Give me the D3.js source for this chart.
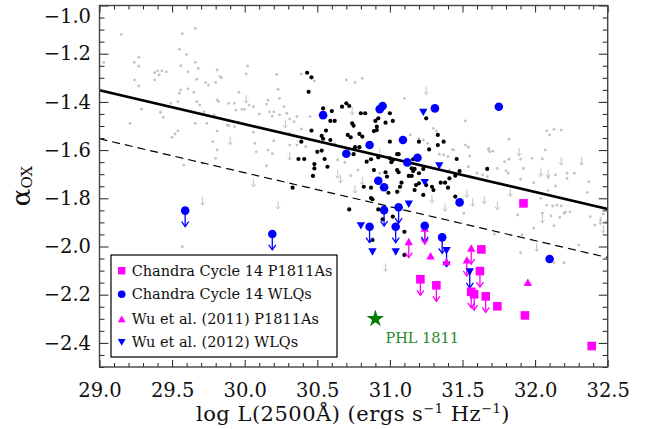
<!DOCTYPE html>
<html><head><meta charset="utf-8">
<script src="https://cdn.jsdelivr.net/npm/d3@7"></script>
<style>body{margin:0;background:#fff}</style>
</head><body>
<svg id="chart" width="650" height="429"></svg>
<script>
// ---------------- data ----------------
const xMajorTicks = [29.0, 29.5, 30.0, 30.5, 31.0, 31.5, 32.0, 32.5];
const yMajorTicks = [-1.0, -1.2, -1.4, -1.6, -1.8, -2.0, -2.2, -2.4];
const xDomain = [29.0, 32.5];
const yDomain = [-2.5, -1.0];

// best-fit relation (solid) and offset relation (dashed)
const fitSolid = [[29.0, -1.352], [32.5, -1.844]];
const fitDashed = [[29.0, -1.553], [32.5, -2.046]];

// comparison sample: detections (grey dots)
const sampleDetections = [
[29.15,-1.12],[29.66,-1.095],[29.57,-1.117],[29.55,-1.182],[29.60,-1.203],[29.03,-1.236],[29.24,-1.236],[29.27,-1.215],[29.27,-1.252],[29.56,-1.25],[29.66,-1.236],[29.68,-1.261],[29.38,-1.279],[29.40,-1.271],[29.43,-1.271],[29.46,-1.275],[29.41,-1.288],[29.38,-1.309],[29.24,-1.309],[29.27,-1.334],[29.61,-1.275],[29.81,-1.268],[29.83,-1.295],[29.84,-1.30],[29.67,-1.306],[29.73,-1.32],[29.75,-1.33],[29.80,-1.319],[30.02,-1.251],[30.01,-1.284],[30.22,-1.286],[30.23,-1.348],[30.24,-1.385],[29.56,-1.351],[29.55,-1.364],[29.54,-1.399],[29.61,-1.346],[29.65,-1.36],[29.67,-1.399],[29.69,-1.413],[29.81,-1.392],[29.82,-1.399],[29.96,-1.36],[29.49,-1.406],[29.29,-1.43],[29.42,-1.443],[29.44,-1.464],[29.72,-1.441],[29.79,-1.454],[29.89,-1.406],[29.93,-1.406],[29.94,-1.434],[29.98,-1.431],[30.00,-1.431],[30.03,-1.413],[30.06,-1.42],[30.10,-1.45],[30.15,-1.409],[30.17,-1.441],[30.20,-1.441],[30.19,-1.459],[30.24,-1.454],[30.31,-1.471],[30.34,-1.482],[30.36,-1.461],[29.21,-1.489],[29.66,-1.489],[29.74,-1.489],[29.88,-1.496],[29.89,-1.499],[29.93,-1.503],[29.96,-1.485],[29.81,-1.521],[30.06,-1.526],[29.54,-1.52],[29.52,-1.533],[29.50,-1.547],[29.78,-1.565],[30.07,-1.572],[30.20,-1.562],[30.36,-1.579],[29.81,-1.60],[30.08,-1.607],[30.16,-1.60],[29.80,-1.634],[29.58,-1.662],[29.71,-1.655],[30.15,-1.665],[29.57,-2.001],
[32.08,-1.52],[32.10,-1.537],[32.13,-1.514],[32.18,-1.517],[31.82,-1.555],[31.68,-1.593],[31.71,-1.604],[32.07,-1.60],[31.82,-1.638],[31.79,-1.648],[31.90,-1.638],[31.98,-1.634],[32.05,-1.637],[31.74,-1.676],[31.80,-1.686],[31.815,-1.696],[31.92,-1.676],[32.14,-1.703],[32.22,-1.696],[32.22,-1.717],[32.27,-1.696],[31.90,-1.721],[31.99,-1.735],[32.09,-1.713],[32.37,-1.731],[31.67,-1.71],[32.36,-1.775],[32.14,-1.749],[32.09,-1.768],[32.10,-1.786],[32.04,-1.80],[32.12,-1.832],[32.15,-1.828],[32.18,-1.832],[32.21,-1.856],[32.20,-1.862],[32.24,-1.856],[32.11,-1.873],[32.17,-1.879],[31.88,-1.869],[32.38,-1.876],[32.41,-1.911],[32.13,-1.914],[31.99,-1.924],[31.72,-1.948],[31.91,-1.952],[32.30,-1.994],[31.90,-2.026],[32.13,-2.067],[32.20,-2.067],[32.05,-1.862],[32.08,-1.828],[32.45,-1.89],[32.47,-1.865],[32.49,-1.898],
[30.39,-1.512],[30.27,-1.42],[30.29,-1.447],[30.31,-1.579],[30.45,-1.461],[30.42,-1.586],[30.62,-1.572],[30.67,-1.586],[30.70,-1.309],[30.81,-1.302],[30.76,-1.319],[30.78,-1.60],[30.64,-1.641],[30.69,-1.651],[30.78,-1.683],[30.73,-1.706],[30.93,-1.696],[31.10,-1.565],[31.14,-1.537],[31.23,-1.558],[31.26,-1.572],[31.30,-1.51],[31.32,-1.521],[31.52,-1.479],[31.68,-1.60],[31.44,-1.60],[31.40,-1.627],[31.54,-1.669],[31.60,-1.696],[31.64,-1.703],[31.41,-1.683],[31.10,-1.385],[31.34,-1.617],[31.37,-1.62],[31.43,-1.597],[31.52,-1.579],[31.54,-1.588],[31.69,-1.607],[31.55,-1.624],[31.20,-1.551],[31.51,-1.862],[30.19,-1.615],[30.31,-1.532],[30.16,-1.393],[30.39,-1.284],[30.48,-1.313]
];

// comparison sample: upper limits (grey arrows)
const sampleLimits = [
[30.01,-1.371],[30.28,-1.475],[29.90,-1.544],[30.31,-1.608],[30.06,-1.72],[29.71,-1.795],[30.23,-1.811],[31.89,-1.591],[32.18,-1.629],[32.32,-1.629],[32.04,-1.676],[32.09,-1.68],[31.65,-1.79],[31.74,-1.814],[32.05,-1.869],[32.45,-1.876],[32.47,-1.911],[32.01,-1.987],[31.53,-1.763],[31.57,-1.80],[31.38,-1.821],[31.29,-1.786],[30.97,-2.07],[30.64,-1.683],[30.66,-1.703],[30.74,-1.42],[30.81,-1.71],[30.76,-1.745],[30.93,-1.593],[31.06,-1.745],[31.25,-1.337],[31.83,-1.759]
];

// black dots
const blackDots = [
[30.43,-1.279],[30.46,-1.298],[30.44,-1.358],[30.54,-1.427],[30.60,-1.438],[30.59,-1.479],[30.62,-1.479],[30.67,-1.420],[30.70,-1.406],[30.72,-1.417],[30.80,-1.447],[30.83,-1.447],[30.74,-1.489],[30.75,-1.499],[30.90,-1.479],[30.92,-1.468],[30.97,-1.486],[30.91,-1.503],[30.91,-1.517],[30.89,-1.521],[31.00,-1.447],[31.02,-1.479],[30.46,-1.519],[30.56,-1.519],[30.53,-1.541],[30.54,-1.553],[30.39,-1.565],[30.59,-1.558],[30.71,-1.537],[30.73,-1.547],[30.79,-1.533],[30.81,-1.544],[30.76,-1.588],[30.79,-1.588],[31.00,-1.565],[30.50,-1.607],[30.53,-1.602],[30.37,-1.637],[30.41,-1.637],[30.55,-1.637],[30.48,-1.658],[30.48,-1.676],[30.57,-1.669],[30.75,-1.617],[30.84,-1.648],[30.87,-1.638],[30.47,-1.707],[30.89,-1.683],[30.98,-1.710],[31.20,-1.565],[31.33,-1.537],[31.37,-1.565],[31.33,-1.579],[31.27,-1.597],[31.05,-1.617],[31.06,-1.617],[31.00,-1.634],[31.02,-1.641],[31.16,-1.638],[31.46,-1.637],[31.15,-1.676],[31.16,-1.687],[31.17,-1.678],[31.05,-1.683],[31.06,-1.692],[31.23,-1.678],[31.20,-1.696],[31.13,-1.707],[31.15,-1.707],[31.08,-1.735],[31.18,-1.745],[31.25,-1.745],[31.29,-1.752],[31.30,-1.766],[31.35,-1.735],[31.38,-1.735],[31.40,-1.756],[31.41,-1.717],[31.48,-1.687],[31.45,-1.706],[31.67,-1.678],[31.23,-1.786],[31.45,-1.793],[31.07,-1.752],[31.05,-1.773],[30.99,-1.777],[30.82,-1.752],[30.87,-1.756],[30.87,-1.799],[30.33,-1.756],[31.25,-1.468],[31.20,-1.738],[31.17,-1.766],[30.88,-1.804],[30.72,-1.846],[30.95,-1.887],[31.10,-1.939],[31.10,-2.035],[30.88,-1.973],[31.02,-1.876],[30.92,-1.846],[30.92,-1.630],[30.97,-1.692],[31.01,-1.650]
];

// [logL, alpha_ox, upperLimit]
const c14P1811 = [
[31.92,-1.821,0],[31.63,-2.012,0],[31.62,-2.102,1],[31.21,-2.136,1],[31.32,-2.161,1],[31.56,-2.188,1],[31.58,-2.198,1],[31.66,-2.207,1],[31.74,-2.248,0],[31.93,-2.286,0],[32.39,-2.413,0]
];
const c14WLQ = [
[29.59,-1.851,1],[30.19,-1.948,1],[30.54,-1.455,0],[30.70,-1.615,0],[30.86,-1.579,0],[30.93,-1.430,0],[30.95,-1.417,0],[30.92,-1.727,0],[30.96,-1.754,0],[30.96,-1.849,1],[31.06,-1.837,1],[31.04,-1.918,1],[31.09,-1.558,0],[31.12,-1.651,0],[31.19,-1.632,0],[31.24,-1.914,1],[31.31,-1.427,0],[31.36,-1.962,1],[31.48,-1.817,0],[31.75,-1.420,0],[32.10,-2.052,0],[30.86,-1.918,1]
];
const wu11P1811 = [
[31.13,-1.980,1],[31.28,-2.039,0],[31.24,-1.924,1],[31.39,-2.063,0],[31.56,-2.007,1],[31.53,-2.056,1],[31.95,-2.149,0]
];
const wu12WLQ = [
[30.80,-1.914,0],[30.88,-2.022,0],[31.04,-2.022,0],[31.13,-1.824,0],[31.23,-1.443,0],[31.34,-1.665,0],[31.24,-1.734,0],[31.39,-2.017,1],[31.55,-2.105,1]
];
const phl1811 = [30.90, -2.30];

const legendLabels = ["Chandra Cycle 14 P1811As", "Chandra Cycle 14 WLQs", "Wu et al. (2011) P1811As", "Wu et al. (2012) WLQs"];

// ---------------- drawing ----------------
const svg = d3.select("#chart");
const FONT = "DejaVu Serif";
const BLUE = "#0000ff", MAG = "#ff00ff", GREY = "#c2c2c2";
const x = d3.scaleLinear().domain(xDomain).range([99.5, 607.7]);
const y = d3.scaleLinear().domain(yDomain).range([367, 5.5]);

const plot = svg.append("g");

// grey sample
plot.selectAll("circle.gd").data(sampleDetections).join("circle")
  .attr("cx", d => x(d[0])).attr("cy", d => y(d[1])).attr("r", 1.4).attr("fill", GREY);

function arrow(g, px, py, len, hw, hh, color, w) {
  g.append("line").attr("x1", px).attr("y1", py).attr("x2", px).attr("y2", py + len)
    .attr("stroke", color).attr("stroke-width", w);
  g.append("path").attr("d", `M${px-hw},${py+len-hh}L${px},${py+len}L${px+hw},${py+len-hh}`)
    .attr("fill", "none").attr("stroke", color).attr("stroke-width", w);
}
const gl = plot.append("g");
sampleLimits.forEach(d => arrow(gl, x(d[0]), y(d[1]), 8, 2.2, 2.6, GREY, 1));

// fit lines
const line = d3.line().x(d => x(d[0])).y(d => y(d[1]));
plot.append("path").attr("d", line(fitSolid)).attr("stroke", "#000").attr("stroke-width", 2.6).attr("fill", "none");
plot.append("path").attr("d", line(fitDashed)).attr("stroke", "#000").attr("stroke-width", 1.2)
  .attr("stroke-dasharray", "8,5").attr("fill", "none");

// black dots
plot.selectAll("circle.bd").data(blackDots).join("circle")
  .attr("cx", d => x(d[0])).attr("cy", d => y(d[1])).attr("r", 2.1).attr("fill", "#000");

// arrows of coloured series
const ca = plot.append("g");
const allLim = [[c14P1811, MAG], [c14WLQ, BLUE], [wu11P1811, MAG], [wu12WLQ, BLUE]];
allLim.forEach(([arr, col]) => arr.filter(d => d[2]).forEach(d => arrow(ca, x(d[0]), y(d[1]), 16, 3.5, 5, col, 1.3)));

const sym = (type, size) => d3.symbol().type(type).size(size)();
const triDown = h => `M${-h*0.6},${-h*0.5}L${h*0.6},${-h*0.5}L0,${h*0.55}Z`;
const triUp = h => `M${-h*0.6},${h*0.5}L${h*0.6},${h*0.5}L0,${-h*0.55}Z`;

plot.selectAll("rect.sq").data(c14P1811).join("rect")
  .attr("x", d => x(d[0]) - 4.3).attr("y", d => y(d[1]) - 4.3).attr("width", 8.6).attr("height", 8.6).attr("fill", MAG);
plot.selectAll("path.tu").data(wu11P1811).join("path")
  .attr("transform", d => `translate(${x(d[0])},${y(d[1])})`).attr("d", triUp(7)).attr("fill", MAG);
plot.selectAll("path.td").data(wu12WLQ).join("path")
  .attr("transform", d => `translate(${x(d[0])},${y(d[1])})`).attr("d", triDown(7)).attr("fill", BLUE);
plot.selectAll("circle.bc").data(c14WLQ).join("circle")
  .attr("cx", d => x(d[0])).attr("cy", d => y(d[1])).attr("r", 4.3).attr("fill", BLUE);

// PHL 1811
plot.append("path").attr("transform", `translate(${x(phl1811[0])},${y(phl1811[1])})`)
  .attr("d", sym(d3.symbolStar, 95)).attr("fill", "#008000");
svg.append("text").attr("x", x(phl1811[0]) + 10).attr("y", y(phl1811[1]) + 24)
  .attr("font-family", FONT).attr("font-size", 14.5).attr("fill", "#1f8a1f").text("PHL 1811");

// ---------------- axes ----------------
const xMinor = d3.range(290, 326).map(v => v / 10).filter(v => Math.abs(v * 2 - Math.round(v * 2)) > 1e-6);
const yMinor = d3.range(-50, -19).map(v => v / 20).filter(v => Math.abs(v * 5 - Math.round(v * 5)) > 1e-6);
const fmt = d3.format(".1f");
const minusFmt = v => fmt(v).replace("-", "\u2212");

function styleAxis(g) {
  g.select(".domain").remove();
  g.selectAll("line").attr("stroke", "#222").attr("stroke-width", 1);
  g.selectAll("text").attr("font-family", FONT).attr("font-size", 19.5).attr("fill", "#111");
}
svg.append("g").attr("transform", "translate(0,367)")
  .call(d3.axisBottom(x).tickValues(xMajorTicks).tickFormat(fmt).tickSizeInner(-7).tickSizeOuter(0).tickPadding(16)).call(styleAxis);
svg.append("g").attr("transform", "translate(0,367)")
  .call(d3.axisBottom(x).tickValues(xMinor).tickFormat("").tickSizeInner(-4).tickSizeOuter(0)).call(styleAxis);
svg.append("g").attr("transform", "translate(0,5.5)")
  .call(d3.axisTop(x).tickValues(xMajorTicks).tickFormat("").tickSizeInner(-7).tickSizeOuter(0)).call(styleAxis);
svg.append("g").attr("transform", "translate(0,5.5)")
  .call(d3.axisTop(x).tickValues(xMinor).tickFormat("").tickSizeInner(-4).tickSizeOuter(0)).call(styleAxis);
const yl = svg.append("g").attr("transform", "translate(99.5,0)")
  .call(d3.axisLeft(y).tickValues(yMajorTicks).tickFormat(minusFmt).tickSizeInner(-9).tickSizeOuter(0).tickPadding(8.5)).call(styleAxis);
yl.selectAll(".tick").filter(d => d === -1.0).select("text").attr("dy", "0.85em");
svg.append("g").attr("transform", "translate(99.5,0)")
  .call(d3.axisLeft(y).tickValues(yMinor).tickFormat("").tickSizeInner(-5).tickSizeOuter(0)).call(styleAxis);
svg.append("g").attr("transform", "translate(607.7,0)")
  .call(d3.axisRight(y).tickValues(yMajorTicks).tickFormat("").tickSizeInner(-9).tickSizeOuter(0)).call(styleAxis);
svg.append("g").attr("transform", "translate(607.7,0)")
  .call(d3.axisRight(y).tickValues(yMinor).tickFormat("").tickSizeInner(-5).tickSizeOuter(0)).call(styleAxis);

svg.append("rect").attr("x", 99.5).attr("y", 5.5).attr("width", 607.7 - 99.5).attr("height", 367 - 5.5)
  .attr("fill", "none").attr("stroke", "#444").attr("stroke-width", 1.4);

// axis titles
const xt = svg.append("text").attr("x", 353).attr("y", 421).attr("text-anchor", "middle")
  .attr("font-family", FONT).attr("font-size", 21).attr("letter-spacing", 0.5).attr("fill", "#111");
xt.append("tspan").text("log L(2500\u00C5) (ergs s");
xt.append("tspan").attr("dy", -8).attr("font-size", 13).text("\u22121");
xt.append("tspan").attr("dy", 8).text(" Hz");
xt.append("tspan").attr("dy", -8).attr("font-size", 13).text("\u22121");
xt.append("tspan").attr("dy", 8).text(")");

const yt = svg.append("text").attr("transform", "translate(30,186) rotate(-90)").attr("text-anchor", "middle")
  .attr("font-family", FONT).attr("font-size", 26).attr("fill", "#111");
yt.append("tspan").text("\u03B1");
yt.append("tspan").attr("font-size", 15).attr("dy", 2).text("OX");

// ---------------- legend ----------------
const lg = svg.append("g");
lg.append("rect").attr("x", 111).attr("y", 255).attr("width", 226).attr("height", 102)
  .attr("fill", "#fff").attr("stroke", "#000").attr("stroke-width", 1.2);
const rowsY = [270.7, 294.3, 319, 342.3];
lg.append("rect").attr("x", 121.7 - 3.7).attr("y", rowsY[0] - 3.7).attr("width", 7.4).attr("height", 7.4).attr("fill", MAG);
lg.append("circle").attr("cx", 121.7).attr("cy", rowsY[1]).attr("r", 3.8).attr("fill", BLUE);
lg.append("path").attr("transform", `translate(121.7,${rowsY[2]})`).attr("d", triUp(6.5)).attr("fill", MAG);
lg.append("path").attr("transform", `translate(121.7,${rowsY[3]})`).attr("d", triDown(6.5)).attr("fill", BLUE);
legendLabels.forEach((t, i) => lg.append("text").attr("x", 131.7).attr("y", rowsY[i] + 5)
  .attr("font-family", FONT).attr("font-size", 14.5).attr("fill", "#111").text(t));
</script>
</body></html>
